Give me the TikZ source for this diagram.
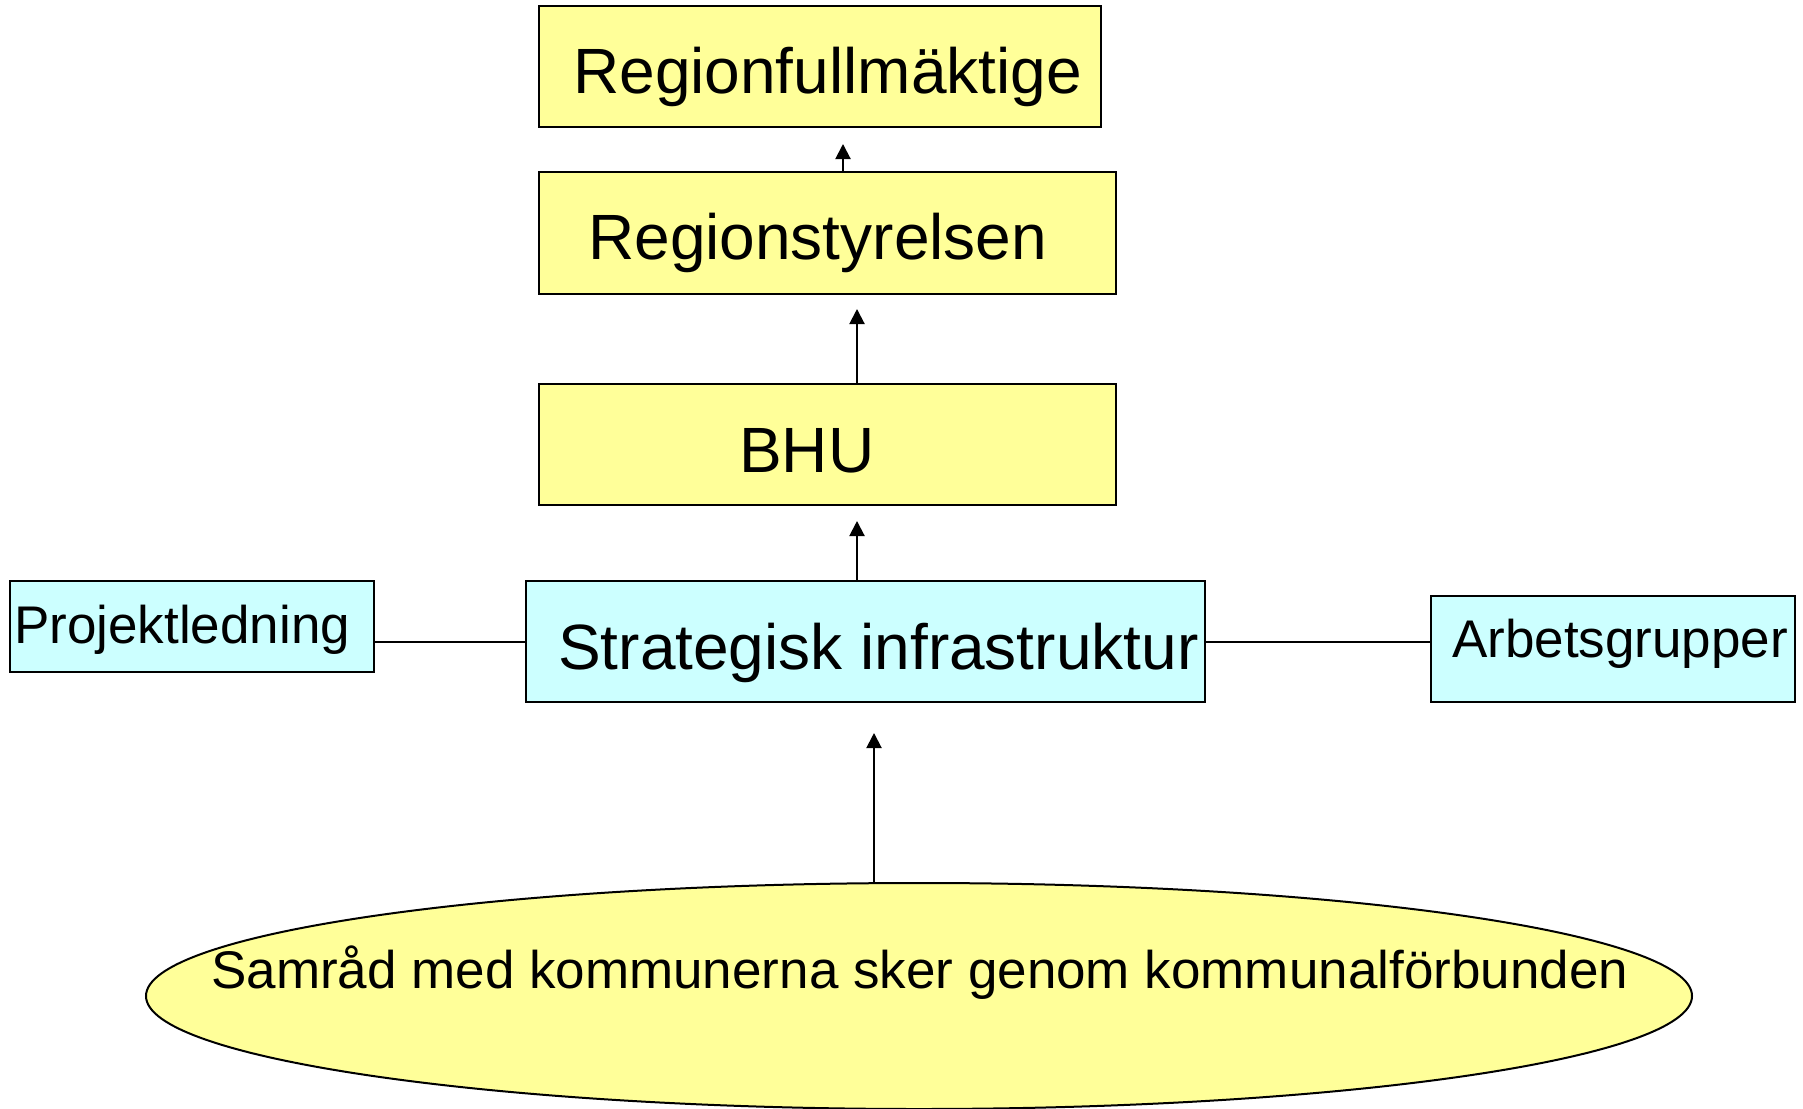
\documentclass[tikz,border=0pt]{standalone}
\usepackage{fontspec}
\setmainfont{Liberation Sans}
\usetikzlibrary{arrows.meta,shapes.geometric}
\definecolor{boxyellow}{HTML}{FFFF99}
\definecolor{boxcyan}{HTML}{CCFFFF}
\begin{document}
\begin{tikzpicture}[x=1pt,y=-1pt,
  ybox/.style={draw=black,line width=2pt,fill=boxyellow,rectangle,inner sep=0pt},
  cbox/.style={draw=black,line width=2pt,fill=boxcyan,rectangle,inner sep=0pt},
  bigtxt/.style={anchor=base west,inner sep=0pt,font=\fontsize{64}{76}\selectfont},
  smalltxt/.style={anchor=base west,inner sep=0pt,font=\fontsize{53}{64}\selectfont},
  arr/.style={line width=2pt,-{Triangle[length=15pt,width=15pt]}},
  conn/.style={line width=2pt}]
\useasboundingbox (0,0) rectangle (1803,1108);
\fill[white] (0,0) rectangle (1803,1108);
% boxes
\node[ybox,minimum width=562pt,minimum height=120pt] (rf) at (820,66.5) {};
\node[ybox,minimum width=577pt,minimum height=122pt] (rs) at (827.5,233) {};
\node[ybox,minimum width=577pt,minimum height=121pt] (bhu) at (827.5,444.5) {};
\node[cbox,minimum width=679pt,minimum height=121pt] (si) at (865.5,641.5) {};
\node[cbox,minimum width=364pt,minimum height=91pt] (pl) at (192,626.5) {};
\node[cbox,minimum width=364pt,minimum height=106pt] (ar) at (1613,649) {};
\node[draw=black,line width=2pt,fill=boxyellow,ellipse,inner sep=0pt,minimum width=1546pt,minimum height=226pt] (el) at (919,996) {};
% texts
\node[bigtxt] (rft) at (573,93) {Regionfullmäktige};
\node[bigtxt] (rst) at (588,259) {Regionstyrelsen};
\node[bigtxt] (bhut) at (739,472) {BHU};
\node[bigtxt] (sit) at (558,669) {Strategisk infrastruktur};
\node[smalltxt] (plt) at (14,643) {Projektledning};
\node[smalltxt] (art) at (1452,657) {Arbetsgrupper};
\node[smalltxt] (elt) at (211,988) {Samråd med kommunerna sker genom kommunalförbunden};
% arrow tips
\coordinate (t1) at (843,144);
\coordinate (t2) at (857,309);
\coordinate (t3) at (857,521);
\coordinate (t4) at (874,733);
\draw[arr] (rs.north -| t1) -- (t1);
\draw[arr] (bhu.north -| t2) -- (t2);
\draw[arr] (si.north -| t3) -- (t3);
\draw[arr] (el.north -| t4) -- (t4);
% side connectors
\draw[conn] (si.west) -- (si.west -| pl.east);
\draw[conn] (si.east) -- (si.east -| ar.west);
\end{tikzpicture}
\end{document}
